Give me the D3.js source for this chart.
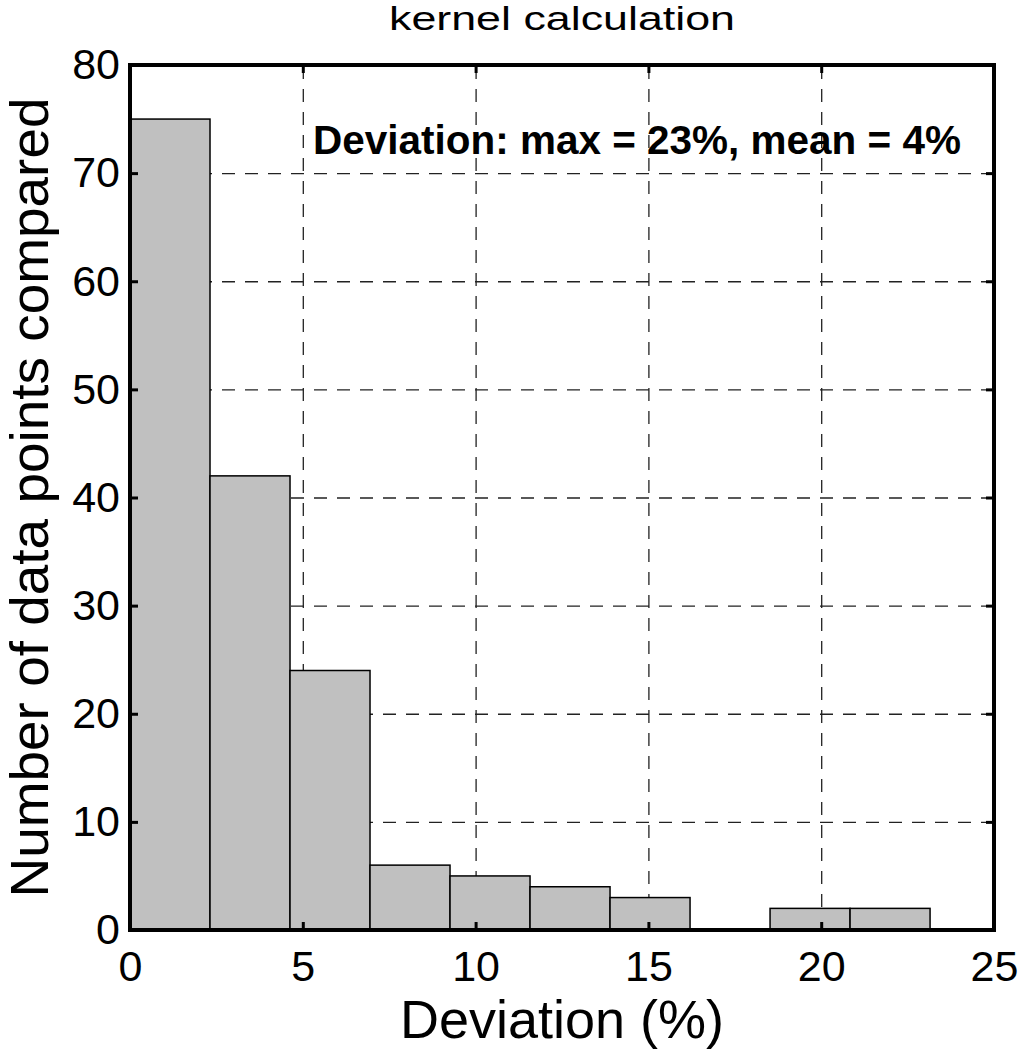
<!DOCTYPE html>
<html>
<head>
<meta charset="utf-8">
<script src="https://cdn.jsdelivr.net/npm/d3@7"></script>
<style>
  html, body { margin: 0; padding: 0; background: #fff; }
  svg { display: block; }
  text { font-family: "Liberation Sans", Arial, sans-serif; fill: #000; }
</style>
</head>
<body>
<svg id="chart" width="1019" height="1050"></svg>
<script>
// ---- data ----
const counts = [75, 42, 24, 6, 5, 4, 3, 0, 2, 2];
const binStart = 0;
const binEnd = 23.15;           // max deviation (%)
const xTicks = [0, 5, 10, 15, 20, 25];
const yTicks = [0, 10, 20, 30, 40, 50, 60, 70, 80];
const titleText = "kernel calculation";
const xLabel = "Deviation (%)";
const yLabel = "Number of data points compared";
const noteText = "Deviation: max = 23%, mean = 4%";

// ---- layout ----
const svg = d3.select("#chart");
const L = 130, R = 994, T = 65, B = 930;
const x = d3.scaleLinear().domain([0, 25]).range([L, R]);
const y = d3.scaleLinear().domain([0, 80]).range([B, T]);

const binW = (binEnd - binStart) / counts.length;
const bins = counts.map((c, i) => ({ x0: binStart + i * binW, x1: binStart + (i + 1) * binW, c }));

// grid
const gx = svg.append("g").attr("transform", `translate(0,${B})`)
  .call(d3.axisBottom(x).tickValues(xTicks.slice(1, -1)).tickSize(-(B - T)).tickFormat(""));
gx.select(".domain").remove();
gx.selectAll("line").attr("stroke", "#222").attr("stroke-width", 1.3).attr("stroke-dasharray", "13,10");
const gy = svg.append("g").attr("transform", `translate(${L},0)`)
  .call(d3.axisLeft(y).tickValues(yTicks.slice(1, -1)).tickSize(-(R - L)).tickFormat(""));
gy.select(".domain").remove();
gy.selectAll("line").attr("stroke", "#222").attr("stroke-width", 1.3).attr("stroke-dasharray", "13,10");

// bars
svg.append("g").selectAll("rect").data(bins).join("rect")
  .attr("x", d => x(d.x0))
  .attr("y", d => y(d.c))
  .attr("width", d => x(d.x1) - x(d.x0))
  .attr("height", d => y(0) - y(d.c))
  .attr("fill", "#c0c0c0")
  .attr("stroke", "#000")
  .attr("stroke-width", 1.5);

// axes
function styleAxis(g) {
  g.select(".domain").remove();
  g.selectAll(".tick line").attr("stroke", "#000").attr("stroke-width", 3);
  g.selectAll("text").attr("font-size", 43).attr("font-family", '"Liberation Sans", Arial, sans-serif').attr("fill", "#000");
}
svg.append("g").attr("transform", `translate(0,${B})`)
  .call(d3.axisBottom(x).tickValues(xTicks).tickSize(-8).tickPadding(20).tickFormat(d3.format("d")))
  .call(styleAxis);
svg.append("g").attr("transform", `translate(0,${T})`)
  .call(d3.axisTop(x).tickValues(xTicks).tickSize(-8).tickFormat(""))
  .call(styleAxis);
svg.append("g").attr("transform", `translate(${L},0)`)
  .call(d3.axisLeft(y).tickValues(yTicks).tickSize(-8).tickPadding(10).tickFormat(d3.format("d")))
  .call(styleAxis);
svg.append("g").attr("transform", `translate(${R},0)`)
  .call(d3.axisRight(y).tickValues(yTicks).tickSize(-8).tickFormat(""))
  .call(styleAxis);

// frame
svg.append("rect").attr("x", L).attr("y", T).attr("width", R - L).attr("height", B - T)
  .attr("fill", "none").attr("stroke", "#000").attr("stroke-width", 4);

// texts
svg.append("text").attr("x", 562).attr("y", 30).attr("text-anchor", "middle")
  .attr("font-size", 34).attr("textLength", 346).attr("lengthAdjust", "spacingAndGlyphs")
  .text(titleText);
svg.append("text").attr("x", 562).attr("y", 1038).attr("text-anchor", "middle")
  .attr("font-size", 54).text(xLabel);
svg.append("text").attr("transform", `translate(48,${(T + B) / 2}) rotate(-90)`).attr("text-anchor", "middle")
  .attr("font-size", 53).attr("textLength", 800).attr("lengthAdjust", "spacingAndGlyphs")
  .text(yLabel);
svg.append("text").attr("x", 313).attr("y", 154)
  .attr("font-size", 41).attr("font-weight", "bold")
  .attr("textLength", 648).attr("lengthAdjust", "spacingAndGlyphs")
  .text(noteText);
</script>
</body>
</html>
